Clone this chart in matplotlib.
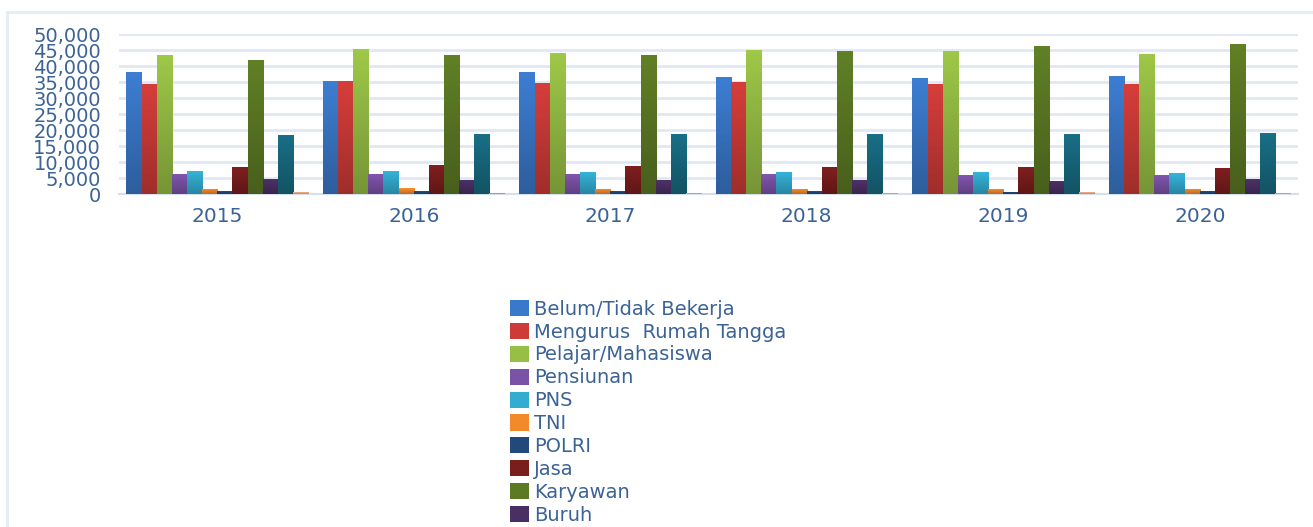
import numpy as np
import matplotlib
matplotlib.use('Agg')
import matplotlib.pyplot as plt
from matplotlib.patches import Patch
from matplotlib.lines import Line2D
from matplotlib.colors import to_rgb, LinearSegmentedColormap

years = ['2015', '2016', '2017', '2018', '2019', '2020']
jobs = ['Belum/Tidak Bekerja', 'Mengurus  Rumah Tangga', 'Pelajar/Mahasiswa',
        'Pensiunan', 'PNS', 'TNI', 'POLRI', 'Jasa', 'Karyawan', 'Buruh',
        'Wiraswasta', 'Lainnya']

# one list per year, same order as jobs
v2015 = [38200, 34400, 43500, 6100, 7200, 1700, 800, 8400, 42000, 4800, 18500, 500]
v2016 = [35400, 35300, 45200, 6250, 7200, 1800, 800, 9000, 43500, 4500, 18900, 400]
v2017 = [38200, 34700, 44000, 6100, 7000, 1700, 800, 8900, 43400, 4300, 18600, 300]
v2018 = [36600, 35000, 45000, 6100, 6900, 1600, 800, 8300, 44600, 4300, 18600, 300]
v2019 = [36100, 34400, 44800, 5900, 6800, 1600, 700, 8300, 46100, 4200, 18750, 500]
v2020 = [36900, 34300, 43900, 5900, 6500, 1600, 800, 8100, 47000, 4600, 19000, 200]

colors = ['#3a78c9', '#cc3b38', '#97bf45', '#7a52a6', '#33acd0', '#f2892a',
          '#21497a', '#7a1d1d', '#5c7a24', '#4a2f63', '#186a80', '#f0a986']

vals = np.array([v2015, v2016, v2017, v2018, v2019, v2020])
txt = '#3b6396'

fig = plt.figure(figsize=(13.13, 5.27), dpi=100)
ax = fig.add_axes([119/1313, 1-194/527, (1298-119)/1313, 160/527])

n = len(jobs)
w = 0.077
x = np.arange(len(years))
grad = np.linspace(1, 0, 64).reshape(-1, 1)
for i in range(n):
    bars = ax.bar(x + (i - (n-1)/2)*w, vals[:, i], width=w, color=colors[i], zorder=2)
    c = np.array(to_rgb(colors[i]))
    cmap = LinearSegmentedColormap.from_list('g%d' % i, [c*0.78, np.minimum(c*1.05, 1)])
    for b in bars:
        x0, y0 = b.get_x(), b.get_y()
        im = ax.imshow(grad, cmap=cmap, aspect='auto', zorder=3,
                       extent=[x0, x0 + b.get_width(), y0, y0 + b.get_height()])
        im.set_clip_path(b)

ax.set_xlim(-0.5, len(years)-0.5)
ax.set_ylim(0, 50000)
ax.set_yticks(np.arange(0, 50001, 5000))
ax.set_yticklabels(['{:,}'.format(t) for t in range(0, 50001, 5000)])
ax.set_xticks(x)
ax.set_xticklabels(years)
ax.tick_params(axis='y', length=0, pad=13, labelsize=14, labelcolor=txt)
ax.tick_params(axis='x', length=0, pad=9, labelsize=14.5, labelcolor=txt)
ax.grid(axis='y', color='#dfe8f4', lw=2, zorder=0)
for s in ['top', 'right', 'left']:
    ax.spines[s].set_visible(False)
ax.spines['bottom'].set_color('#d5e0ee')
ax.spines['bottom'].set_linewidth(1.5)

# frame around the chart (only left and top edges fall inside the picture)
fig.add_artist(Line2D([7/1313, 7/1313], [0, 1-12/527], color='#e4ecf6', lw=2))
fig.add_artist(Line2D([7/1313, 1], [1-12/527, 1-12/527], color='#e4ecf6', lw=2))

handles = [Patch(facecolor=colors[i]) for i in range(n)]
fig.legend(handles[:10], jobs[:10], loc='upper left',
           bbox_to_anchor=(500/1313, 1-290/527), frameon=False,
           fontsize=14, labelcolor=txt, handlelength=1.0, handleheight=0.9,
           handletextpad=0.25, labelspacing=0.2, borderpad=0)

fig.savefig('out.png', dpi=100)
